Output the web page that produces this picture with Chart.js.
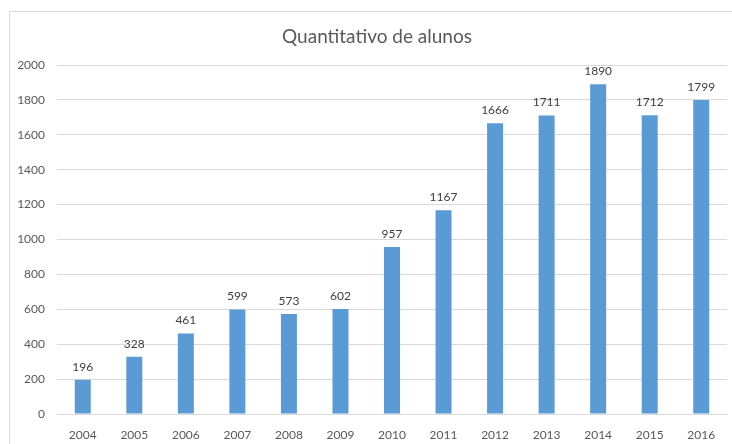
<!DOCTYPE html>
<html>
<head>
<meta charset="utf-8">
<script src="https://cdn.jsdelivr.net/npm/chart.js@4/dist/chart.umd.min.js"></script>
<style>
  html, body { margin: 0; padding: 0; background: #fff; }
  #wrap { position: relative; width: 732px; height: 444px; overflow: hidden; }
  #frame { position: absolute; left: 9px; top: 11px; width: 760px; height: 460px; border: 1px solid #d9d9d9; box-sizing: border-box; }
  canvas { position: absolute; left: 0; top: 0; }
</style>
</head>
<body>
<div id="wrap">
  <div id="frame"></div>
  <canvas id="chart" width="732" height="444"></canvas>
</div>
<script>
// Data
const years = ['2004', '2005', '2006', '2007', '2008', '2009', '2010', '2011', '2012', '2013', '2014', '2015', '2016'];
const alunos = [196, 328, 461, 599, 573, 602, 957, 1167, 1666, 1711, 1890, 1712, 1799];
const yTicks = [0, 200, 400, 600, 800, 1000, 1200, 1400, 1600, 1800, 2000];
const titleText = 'Quantitativo de alunos';

const textColor = '#595959';
const font = '"Lato", "Open Sans", sans-serif';

// value labels above each bar + title centred over the frame
const barLabels = {
    id: 'barLabels',
    afterDatasetsDraw(chart) {
        const ctx = chart.ctx;
        const meta = chart.getDatasetMeta(0);
        ctx.save();
        ctx.fillStyle = '#404040';
        ctx.font = '12px ' + font;
        ctx.textAlign = 'center';
        ctx.textBaseline = 'bottom';
        meta.data.forEach((bar, i) => {
            ctx.fillText(String(alunos[i]), bar.x, bar.y - 7);
        });
        ctx.fillStyle = textColor;
        ctx.font = '19px ' + font;
        ctx.textBaseline = 'middle';
        ctx.fillText(titleText, 377, 37);
        ctx.restore();
    }
};

new Chart(document.getElementById('chart'), {
    type: 'bar',
    data: {
        labels: years,
        datasets: [{
            data: alunos,
            backgroundColor: '#5b9bd5',
            categoryPercentage: 1,
            barPercentage: 0.31
        }]
    },
    options: {
        responsive: false,
        animation: false,
        layout: { padding: { left: 0, right: 5, top: 65, bottom: 0 } },
        plugins: {
            legend: { display: false },
            tooltip: { enabled: false },
            title: { display: false }
        },
        scales: {
            x: {
                afterFit: (s) => { s.height = 30; },
                grid: { display: false, drawTicks: false },
                border: { color: '#d9d9d9' },
                ticks: { color: textColor, font: { family: font, size: 12 }, padding: 14 }
            },
            y: {
                min: 0,
                max: 2000,
                afterFit: (s) => { s.width = 57; },
                afterBuildTicks: (s) => { s.ticks = yTicks.map(v => ({ value: v })); },
                grid: { color: '#d9d9d9', drawTicks: false },
                border: { display: false },
                ticks: {
                    color: textColor,
                    font: { family: font, size: 12 },
                    padding: 12,
                    callback: (v) => String(v)
                }
            }
        }
    },
    plugins: [barLabels]
});
</script>
</body>
</html>
